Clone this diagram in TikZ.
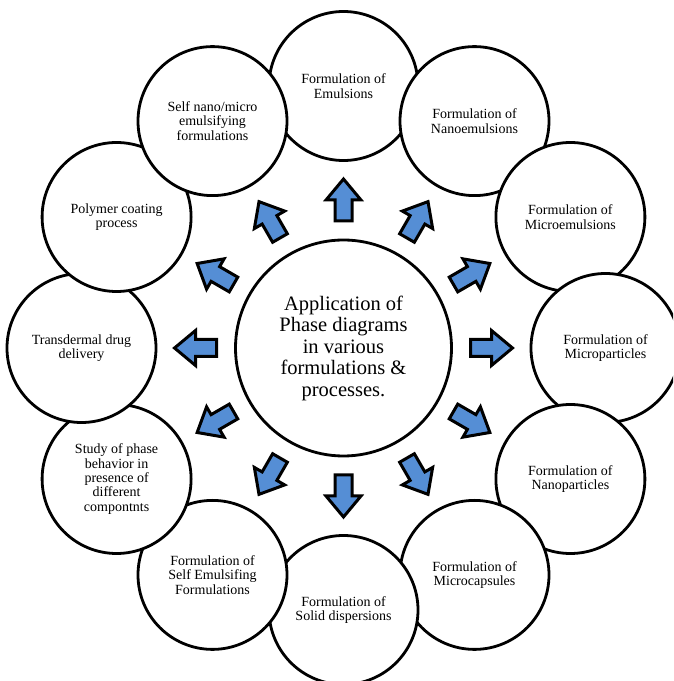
\documentclass[tikz,border=0pt]{standalone}
\usepackage{fontspec}
\setmainfont{Liberation Serif}
\definecolor{arrowblue}{RGB}{85,142,213}
\begin{document}
\begin{tikzpicture}[x=1pt,y=1pt,
  outer/.style={circle, draw=black, line width=2.8pt, fill=white, minimum size=149pt, inner sep=0pt, align=center, font=\fontsize{14}{14.3}\selectfont},
  hub/.style={circle, draw=black, line width=2.8pt, fill=white, minimum size=216pt, inner sep=0pt, align=center, font=\fontsize{20.5}{21.5}\selectfont},
  blockarrow/.style={fill=arrowblue, draw=black, line width=3pt, line join=miter}]
\useasboundingbox (0,0) rectangle (673,681);
\clip (0,0) rectangle (673,681);
\node[hub] (hub) at (343.5,333) {Application of\\Phase diagrams\\in various\\formulations \&\\processes.};
\foreach \ang in {0,30,...,330}{
  \begin{scope}[shift={(hub.center)}, rotate=\ang]
    \draw[blockarrow] (127,-8.5) -- (148,-8.5) -- (148,-17.5) -- (169,0) -- (148,17.5) -- (148,8.5) -- (127,8.5) -- cycle;
  \end{scope}
}
\foreach \ang/\nm/\txt in {
  90/emul/{Formulation of\\Emulsions},
  60/nanoemul/{Formulation of\\Nanoemulsions},
  30/microemul/{Formulation of\\Microemulsions},
  0/micropart/{Formulation of\\Microparticles},
  -30/nanopart/{Formulation of\\Nanoparticles},
  -60/microcaps/{Formulation of\\Microcapsules},
  -90/solid/{Formulation of\\Solid dispersions},
  -120/selfemul/{Formulation of\\Self Emulsifing\\Formulations},
  -150/study/{Study of phase\\behavior in\\presence of\\different\\compontnts},
  180/transdermal/{Transdermal drug\\delivery},
  150/polymer/{Polymer coating\\process},
  120/selfnano/{Self nano/micro\\emulsifying\\formulations}}{
  \node[outer] (\nm) at ([shift={(\ang:262)}]hub.center) {\txt};
}
\end{tikzpicture}
\end{document}
